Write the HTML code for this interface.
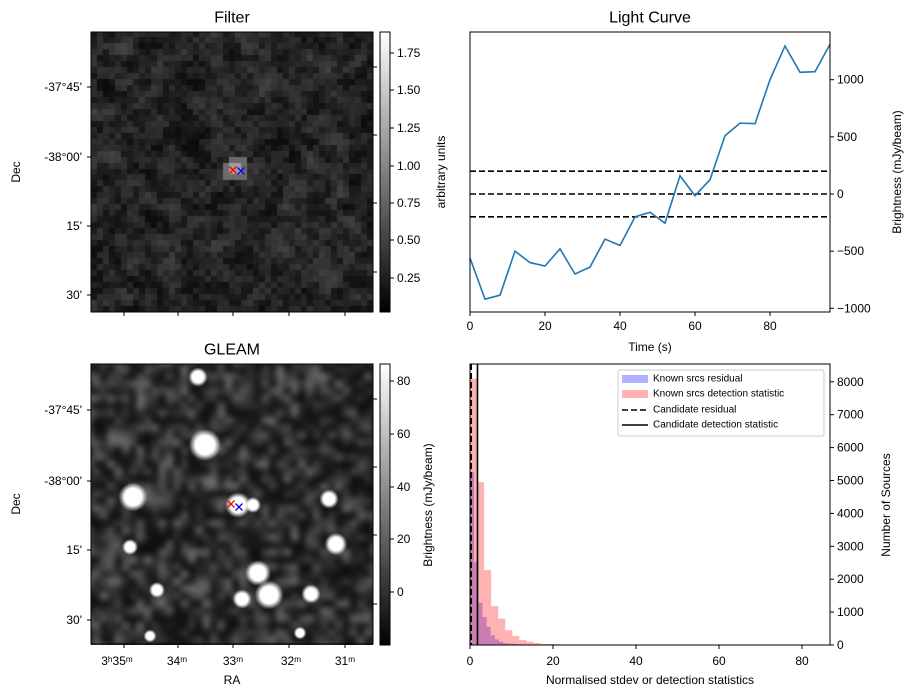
<!DOCTYPE html>
<html><head><meta charset="utf-8">
<style>
body{margin:0;background:#fff;width:916px;height:699px;position:relative;overflow:hidden;font-family:"Liberation Sans","DejaVu Sans",sans-serif;}
canvas{position:absolute;}
svg{position:absolute;left:0;top:0;}
</style></head><body>
<canvas id="img1" width="282" height="280" style="left:91px;top:32px"></canvas>
<canvas id="img2" width="282" height="281" style="left:91px;top:364px"></canvas>
<svg id="s" width="916" height="699">
<defs>
<linearGradient id="g1" x1="0" y1="1" x2="0" y2="0"><stop offset="0" stop-color="#000"/><stop offset="1" stop-color="#fff"/></linearGradient>
</defs>
</svg>
<script>
// Light curve data
const lcTimes=[0,4,8,12,16,20,24,28,32,36,40,44,48,52,56,60,64,68,72,76,80,84,88,92,96];
const lcValues=[-560,-920,-885,-500,-600,-630,-480,-700,-640,-395,-450,-200,-160,-255,160,-15,125,510,620,615,1000,1295,1065,1070,1310];
const lcThresholds=[200,0,-200];
const lcXTicks=[0,20,40,60,80];
const lcYTicks=[1000,500,0,-500,-1000];
// Histogram data
const redBinWidth=1.7;
const redCounts=[8100,4950,2280,1180,800,450,270,150,100,60,30,30,20,15,10,10,8,8,6,5,5,5,4,4,3,3,3,3,2,2,2,2,2,2,2,2,2,2,2,2,2,2,2,2,2,2,2,2];
const blueBinWidth=1.0;
const blueCounts=[5260,2520,1280,850,550,300,170,100,60,45,35,25,20,15,12,10,10,8,8,6,6,5,5,5,4,4,4,3,3,3,3,3,3,2,2,2,2,2,2,2,2,2,2,2,2,2,2,2];
const candResidual=0.3;
const candDetection=1.8;
const histXTicks=[0,20,40,60,80];
const histYTicks=[0,1000,2000,3000,4000,5000,6000,7000,8000];

const NS="http://www.w3.org/2000/svg";
const svg=document.getElementById('s');
function mk(tag,attrs,parent){const e=document.createElementNS(NS,tag);for(const k in attrs)e.setAttribute(k,attrs[k]);(parent||svg).appendChild(e);return e;}
function txt(x,y,s,opt){opt=opt||{};const t=mk('text',{x:x,y:y,'font-size':opt.size||12,'text-anchor':opt.anchor||'middle','dominant-baseline':'central',fill:'#000'});if(opt.rot)t.setAttribute('transform','rotate('+opt.rot+' '+x+' '+y+')');t.textContent=s;return t;}

// ---- Light curve axes
const lcX=t=>470+(t-0)*(360/96);
const lcY=v=>194-v*0.1143;
let g=mk('g',{});
lcThresholds.forEach(v=>{const l=mk('line',{x1:470,x2:830,y1:lcY(v),y2:lcY(v),stroke:'#000','stroke-width':1.6,'stroke-dasharray':'6,3'},g);});
const pts=lcTimes.map((t,i)=>lcX(t)+','+lcY(lcValues[i])).join(' ');
let pl=mk('polyline',{points:pts,fill:'none',stroke:'#1f77b4','stroke-width':1.6},g);


mk('rect',{x:470,y:32,width:360,height:280,fill:'none',stroke:'#000','stroke-width':1},g);
lcXTicks.forEach(t=>{mk('line',{x1:lcX(t),x2:lcX(t),y1:312,y2:316,stroke:'#000'},g);txt(lcX(t),326,String(t));});
lcYTicks.forEach(v=>{mk('line',{x1:830,x2:834,y1:lcY(v),y2:lcY(v),stroke:'#000'},g);txt(837,lcY(v),v<0?'\u2212'+(-v):String(v),{anchor:'start'});});
txt(650,18,'Light Curve',{size:16});
txt(650,347,'Time (s)');
txt(897,172,'Brightness (mJy/beam)',{rot:-90});

// ---- Histogram
const hX=v=>470+v*4.15;
const hY=c=>645-c*0.0329;
let hg=mk('g',{});
blueCounts.forEach((c,i)=>{const r=mk('rect',{x:hX(i*blueBinWidth),y:hY(c),width:hX(blueBinWidth)-470,height:645-hY(c),fill:'#0000ff','fill-opacity':0.3},hg);});
redCounts.forEach((c,i)=>{const r=mk('rect',{x:hX(i*redBinWidth),y:hY(c),width:hX(redBinWidth)-470,height:645-hY(c),fill:'#ff0000','fill-opacity':0.3},hg);});
mk('line',{x1:hX(candResidual),x2:hX(candResidual),y1:364,y2:645,stroke:'#000','stroke-width':1.6,'stroke-dasharray':'6,3'},hg);
mk('line',{x1:hX(candDetection),x2:hX(candDetection),y1:364,y2:645,stroke:'#000','stroke-width':1.6},hg);
mk('rect',{x:470,y:364,width:360,height:281,fill:'none',stroke:'#000'},hg);
histXTicks.forEach(t=>{mk('line',{x1:hX(t),x2:hX(t),y1:645,y2:649,stroke:'#000'},hg);txt(hX(t),661,String(t));});
histYTicks.forEach(v=>{mk('line',{x1:830,x2:834,y1:hY(v),y2:hY(v),stroke:'#000'},hg);txt(837,hY(v),String(v),{anchor:'start'});});
txt(650,680,'Normalised stdev or detection statistics');
txt(886,505,'Number of Sources',{rot:-90});
// legend
let lg=mk('g',{});
mk('rect',{x:618,y:370,width:206,height:66,fill:'#fff',stroke:'#ccc',rx:2},lg);
mk('rect',{x:622,y:375,width:26,height:8,fill:'#0000ff','fill-opacity':0.3},lg);
mk('rect',{x:622,y:390,width:26,height:8,fill:'#ff0000','fill-opacity':0.3},lg);
mk('line',{x1:622,x2:648,y1:410,y2:410,stroke:'#000','stroke-width':1.6,'stroke-dasharray':'6,3'},lg);
mk('line',{x1:622,x2:648,y1:425,y2:425,stroke:'#000','stroke-width':1.6},lg);
[['Known srcs residual',379],['Known srcs detection statistic',394],['Candidate residual',410],['Candidate detection statistic',425]].forEach(a=>txt(653,a[1],a[0],{size:10,anchor:'start'}));

// ---- Image axes
function imgAxes(top,ticksY,labelsY,rightY){
  mk('rect',{x:91,y:top,width:282,height:280,fill:'none',stroke:'#000'});
  ticksY.forEach((y,i)=>{mk('line',{x1:87,x2:91,y1:y,y2:y,stroke:'#000'});txt(82,y,labelsY[i],{anchor:'end'});});
  rightY.forEach(y=>mk('line',{x1:373,x2:377,y1:y,y2:y,stroke:'#000'}));
  [124,178,233,289,345].forEach(x=>mk('line',{x1:x,x2:x,y1:top+280,y2:top+284,stroke:'#000'}));
  txt(16,top+140,'Dec',{rot:-90});
}
imgAxes(32,[87,157,226,295],["-37\u00b045'","-38\u00b000'","15'","30'"],[67,135,203,272]);
imgAxes(364,[410,481,550,620],["-37\u00b045'","-38\u00b000'","15'","30'"],[399,467,535,604]);
const raL=[['3\u02b035\u1d50',117],['34\u1d50',177],['33\u1d50',233],['32\u1d50',291],['31\u1d50',345]];
raL.forEach(a=>txt(a[1],661,a[0]));
txt(232,680,'RA');
txt(232,18,'Filter',{size:16});
txt(232,350,'GLEAM',{size:16});
// colorbars
mk('rect',{x:380,y:32,width:10,height:280,fill:'url(#g1)',stroke:'#000'});
[[1.75,53],[1.50,90],[1.25,128],[1.00,166],[0.75,203],[0.50,240],[0.25,278]].forEach(a=>{mk('line',{x1:390,x2:394,y1:a[1],y2:a[1],stroke:'#000'});txt(397,a[1],a[0].toFixed(2),{anchor:'start'});});
txt(441,172,'arbitrary units',{rot:-90});
mk('rect',{x:380,y:364,width:10,height:281,fill:'url(#g1)',stroke:'#000'});
[['80',381],['60',434],['40',487],['20',539],['\u22120',592]].forEach(a=>{mk('line',{x1:390,x2:394,y1:a[1],y2:a[1],stroke:'#000'});txt(397,a[1],a[0]==='\u22120'?'0':a[0],{anchor:'start'});});
txt(428,505,'Brightness (mJy/beam)',{rot:-90});
// markers
function cross(x,y,c){mk('path',{d:`M${x-3.5},${y-3.5}L${x+3.5},${y+3.5}M${x-3.5},${y+3.5}L${x+3.5},${y-3.5}`,stroke:c,'stroke-width':1.3});}
cross(233,170,'#f00');cross(241,171,'#00f');cross(231,504,'#f00');cross(239,507,'#00f');

// ---- image rendering (texture only)
let seed=7;function rnd(){seed=(seed*16807)%2147483647;return seed/2147483647;}
const c1=document.getElementById('img1').getContext('2d');
const n=47,cw=282/n,ch=280/n;
const base=[];for(let i=0;i<n;i++){base.push([]);for(let j=0;j<n;j++)base[i].push(rnd());}
for(let i=0;i<n;i++)for(let j=0;j<n;j++){
  let s=0,k=0;for(let di=-1;di<=1;di++)for(let dj=-1;dj<=1;dj++){const a=base[i+di],b=a&&a[j+dj];if(b!==undefined){s+=b;k++;}}
  let v=0.03+0.12*base[i][j]+0.2*(s/k)*(s/k);
  const x=(j+0.5)*cw+91,y=(i+0.5)*ch+32;
  const d=Math.hypot(x-236,y-170);if(d<7)v=0.62;else if(d<13)v=Math.max(v,0.42);
  c1.fillStyle=`rgb(${v*255|0},${v*255|0},${v*255|0})`;c1.fillRect(Math.floor(j*cw),Math.floor(i*ch),Math.ceil(cw),Math.ceil(ch));}
const c2=document.getElementById('img2').getContext('2d');
const tmp=document.createElement('canvas');tmp.width=40;tmp.height=40;const tc=tmp.getContext('2d');
for(let i=0;i<40;i++)for(let j=0;j<40;j++){let r=rnd();let v=0.06+0.38*r*r;tc.fillStyle=`rgb(${v*255|0},${v*255|0},${v*255|0})`;tc.fillRect(j,i,1,1);}
c2.imageSmoothingEnabled=true;c2.filter='blur(2px)';c2.drawImage(tmp,-6,-6,294,293);c2.filter='none';
[[205,445,10],[133,497,9],[198,377,6],[258,573,8],[269,595,9],[242,599,6],[311,594,6],[336,544,7],[329,499,6],[130,547,5],[157,590,5],[238,505,8],[253,505,5],[150,636,4],[300,633,4]].forEach(b=>{const x=b[0]-91,y=b[1]-364;const gr=c2.createRadialGradient(x,y,0,x,y,b[2]*1.6);gr.addColorStop(0,'#fff');gr.addColorStop(0.6,'#fff');gr.addColorStop(1,'rgba(255,255,255,0)');c2.fillStyle=gr;c2.beginPath();c2.arc(x,y,b[2]*1.6,0,7);c2.fill();});
</script>
</body></html>
